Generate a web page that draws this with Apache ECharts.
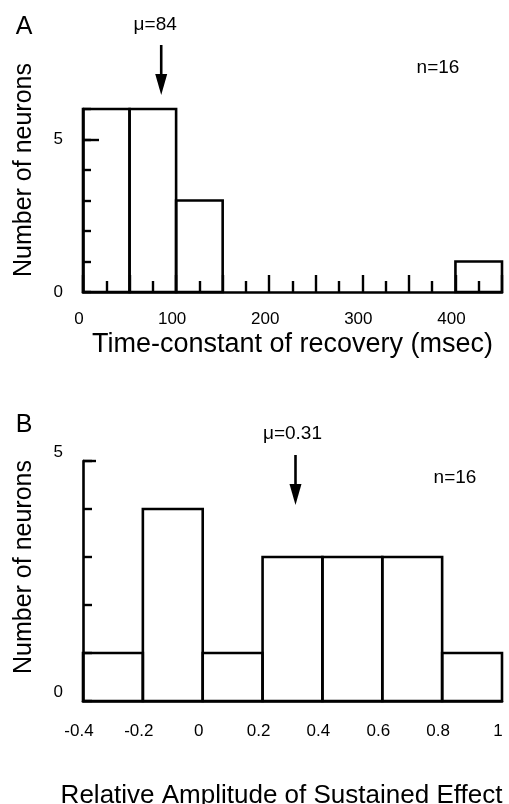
<!DOCTYPE html>
<html>
<head>
<meta charset="utf-8">
<script src="https://cdn.jsdelivr.net/npm/echarts@6/dist/echarts.min.js"></script>
<style>
html,body{margin:0;padding:0;background:#fff;}
#chart{width:509px;height:804px;}
</style>
</head>
<body>
<div id="chart"></div>
<script>
// ---- Data ----
// Panel A: time-constant of recovery histogram (bin edges in msec)
var edgesA = [0, 50, 100, 150, 200, 250, 300, 350, 400, 450];
var countsA = [6, 6, 3, 0, 0, 0, 0, 0, 1];
var xLabelsA = [0, 100, 200, 300, 400];
var yLabelsA = [0, 5];
var meanA = 84;
var nA = 16;

// Panel B: relative amplitude of sustained effect histogram
var edgesB = [-0.4, -0.2, 0, 0.2, 0.4, 0.6, 0.8, 1.0];
var countsB = [1, 4, 1, 3, 3, 3, 1];
var xLabelsB = [-0.4, -0.2, 0, 0.2, 0.4, 0.6, 0.8, 1];
var yLabelsB = [0, 5];
var meanB = 0.31;
var nB = 16;

var FONT = 'Liberation Sans, Arial, Helvetica, sans-serif';

function toBins(edges, counts) {
  var out = [];
  for (var i = 0; i < counts.length; i++) {
    if (counts[i] > 0) out.push([edges[i], edges[i + 1], counts[i]]);
  }
  return out;
}

function renderHist(params, api) {
  var p0 = api.coord([api.value(0), api.value(2)]);
  var p1 = api.coord([api.value(1), 0]);
  return {
    type: 'rect',
    shape: { x: p0[0], y: p0[1], width: p1[0] - p0[0], height: p1[1] - p0[1] },
    style: { fill: 'none', stroke: '#000', lineWidth: 2.6 }
  };
}

var chart = echarts.init(document.getElementById('chart'), null, { renderer: 'canvas' });

var lineStyle = { color: '#000', width: 2.6 };
var tickStyle = { color: '#000', width: 2.4 };
var labelStyle = { color: '#000', fontFamily: FONT, fontSize: 17 };

var option = {
  backgroundColor: '#fff',
  animation: false,
  grid: [
    { left: 83, top: 109, width: 419, height: 183, outerBoundsMode: 'none', containLabel: false },
    { left: 83, top: 461, width: 419, height: 240, outerBoundsMode: 'none', containLabel: false }
  ],
  xAxis: [
    {
      type: 'value', gridIndex: 0, min: edgesA[0], max: edgesA[edgesA.length - 1], interval: 50,
      splitLine: { show: false },
      axisLine: { show: true, lineStyle: lineStyle },
      axisTick: { show: true, inside: true, length: 17, lineStyle: tickStyle },
      minorTick: { show: true, splitNumber: 2, length: 11, lineStyle: tickStyle },
      axisLabel: Object.assign({ margin: 19, customValues: xLabelsA, padding: [0, 8, 0, 0] }, labelStyle),
      name: 'Time-constant of recovery (msec)',
      nameLocation: 'middle', nameGap: 39,
      nameTextStyle: { color: '#000', fontFamily: FONT, fontSize: 27 }
    },
    {
      type: 'value', gridIndex: 1, min: edgesB[0], max: edgesB[edgesB.length - 1], interval: 0.2,
      splitLine: { show: false },
      axisLine: { show: true, lineStyle: lineStyle },
      axisTick: { show: false },
      axisLabel: Object.assign({ margin: 22, customValues: xLabelsB, padding: [0, 8, 0, 0],
        formatter: function (v) { return String(Math.round(v * 10) / 10); } }, labelStyle),
      name: 'Relative Amplitude of Sustained Effect',
      nameLocation: 'middle', nameGap: 82,
      nameTextStyle: { color: '#000', fontFamily: FONT, fontSize: 26, padding: [0, 22, 0, 0] }
    }
  ],
  yAxis: [
    {
      type: 'value', gridIndex: 0, min: 0, max: 6, interval: 1,
      splitLine: { show: false },
      axisLine: { show: true, onZero: false, lineStyle: lineStyle },
      axisTick: { show: true, inside: true, length: 8, lineStyle: tickStyle },
      axisLabel: Object.assign({ margin: 20, customValues: yLabelsA }, labelStyle)
    },
    {
      type: 'value', gridIndex: 0, position: 'left', offset: 0, min: 0, max: 6,
      splitLine: { show: false }, axisLine: { show: false, onZero: false }, axisLabel: { show: false },
      axisTick: { show: true, inside: true, length: 16, lineStyle: tickStyle, customValues: [5] }
    },
    {
      type: 'value', gridIndex: 1, min: 0, max: 5, interval: 1,
      splitLine: { show: false },
      axisLine: { show: true, onZero: false, lineStyle: lineStyle },
      axisTick: { show: true, inside: true, length: 9, lineStyle: tickStyle },
      axisLabel: Object.assign({ margin: 20, customValues: yLabelsB, verticalAlign: 'bottom' }, labelStyle)
    },
    {
      type: 'value', gridIndex: 1, position: 'left', offset: 0, min: 0, max: 5,
      splitLine: { show: false }, axisLine: { show: false, onZero: false }, axisLabel: { show: false },
      axisTick: { show: true, inside: true, length: 13, lineStyle: tickStyle, customValues: [5] }
    }
  ],
  series: [
    {
      type: 'custom', xAxisIndex: 0, yAxisIndex: 0, clip: false,
      renderItem: renderHist, data: toBins(edgesA, countsA), z: 1
    },
    {
      type: 'custom', xAxisIndex: 1, yAxisIndex: 2, clip: false,
      renderItem: renderHist, data: toBins(edgesB, countsB), z: 1
    }
  ]
};
chart.setOption(option);

// Annotations: arrows positioned at the mean through the axis scale
var axA = chart.convertToPixel({ xAxisIndex: 0 }, meanA);
var axB = chart.convertToPixel({ xAxisIndex: 1 }, meanB);

function arrow(x, yTop, yBot) {
  return [
    { type: 'line', shape: { x1: x, y1: yTop, x2: x, y2: yBot - 12 }, style: { stroke: '#000', lineWidth: 2.6 } },
    { type: 'polygon', shape: { points: [[x - 6, yBot - 21], [x + 6, yBot - 21], [x, yBot]] }, style: { fill: '#000' } }
  ];
}

function txt(x, y, s, size, extra) {
  return Object.assign({
    type: 'text', x: x, y: y,
    style: { text: s, fill: '#000', font: size + 'px ' + FONT, align: 'center', verticalAlign: 'middle' }
  }, extra || {});
}

var g = [];
g.push(txt(24, 27, 'A', 25));
g.push(txt(24, 425, 'B', 25));
g.push(txt(axA - 6, 25, 'μ=84', 19));
g.push(txt(438, 68, 'n=' + nA, 19));
g.push(txt(axB - 3, 434, 'μ=' + meanB, 19));
g.push(txt(455, 478, 'n=' + nB, 19));
g.push(txt(24, 170, 'Number of neurons', 25, { rotation: Math.PI / 2 }));
g.push(txt(24, 567, 'Number of neurons', 25, { rotation: Math.PI / 2 }));
g = g.concat(arrow(axA, 45, 95));
g = g.concat(arrow(axB, 455, 505));

chart.setOption({ graphic: { elements: g } });
</script>
</body>
</html>
